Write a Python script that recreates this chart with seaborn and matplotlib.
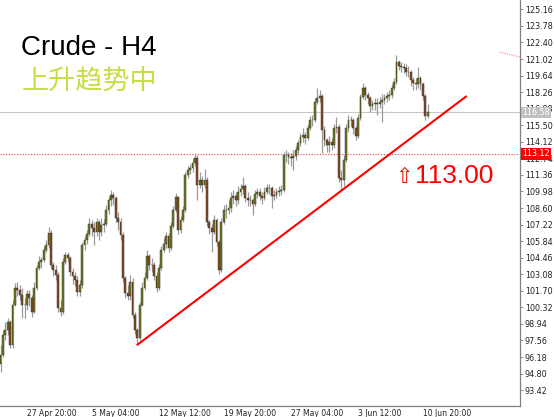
import matplotlib
matplotlib.use("Agg")
import matplotlib.pyplot as plt
import matplotlib.transforms as mtransforms
import numpy as np
import seaborn as sns

# H4 candles (prices)
close = [
    96.35, 98.02, 98.44, 99.10, 97.19, 100.52, 101.94, 101.77, 101.36, 100.52,
    100.52, 101.44, 101.11, 99.94, 101.94, 103.61, 104.11, 104.27, 105.11, 105.52,
    106.52, 103.86, 103.44, 103.02, 100.27, 99.94, 104.11, 104.69, 104.44, 103.27,
    102.94, 102.61, 101.61, 102.19, 105.52, 105.94, 106.44, 107.27, 106.94, 106.61,
    107.44, 106.61, 107.19, 107.27, 108.44, 109.27, 109.69, 109.44, 107.77, 107.44,
    106.36, 102.77, 101.52, 101.27, 102.44, 99.69, 98.44, 97.77, 100.52, 101.94,
    102.77, 104.61, 103.86, 103.86, 102.94, 101.94, 103.61, 105.11, 105.61, 106.27,
    105.27, 107.11, 108.44, 109.52, 106.77, 107.61, 108.44, 111.36, 111.77, 111.94,
    112.36, 112.77, 110.52, 110.94, 110.52, 110.94, 107.44, 106.94, 106.61, 107.61,
    105.77, 103.44, 107.44, 108.44, 108.44, 108.61, 109.44, 109.61, 109.27, 109.94,
    110.19, 110.44, 109.44, 109.27, 109.27, 108.94, 109.77, 109.94, 109.61, 109.44,
    109.94, 110.27, 110.27, 109.61, 109.69, 109.94, 110.02, 110.11, 113.02, 113.02,
    112.86, 112.77, 112.94, 113.44, 114.02, 114.52, 114.69, 114.44, 115.27, 115.94,
    115.94, 117.44, 117.77, 117.94, 115.11, 114.27, 113.86, 114.11, 113.86, 115.27,
    115.36, 111.11, 110.94, 112.61, 115.27, 115.94, 115.94, 115.27, 114.61, 116.11,
    117.86, 118.61, 118.02, 117.77, 117.11, 117.27, 117.36, 117.27, 117.44, 117.61,
    117.77, 117.94, 118.02, 118.61, 119.11, 120.77, 120.44, 120.36, 120.27, 119.94,
    119.94, 119.27, 119.02, 118.94, 119.44, 118.94, 117.94, 116.27, 116.58,
]
high = [
    97.19, 98.44, 99.10, 99.44, 99.27, 100.94, 102.36, 102.44, 102.19, 101.94,
    101.11, 101.77, 101.77, 101.36, 102.44, 103.86, 104.61, 104.52, 105.44, 105.94,
    107.02, 106.77, 104.11, 103.86, 103.27, 100.94, 104.44, 104.94, 104.94, 104.61,
    103.61, 103.27, 102.94, 102.61, 105.77, 106.27, 106.77, 107.77, 107.61, 107.44,
    107.77, 107.61, 107.77, 107.69, 108.86, 109.61, 110.11, 109.94, 109.60, 108.27,
    107.77, 106.61, 102.90, 102.19, 103.02, 102.77, 99.94, 98.61, 100.77, 102.44,
    103.27, 105.11, 104.77, 104.44, 104.11, 103.27, 103.94, 105.44, 106.11, 106.61,
    106.52, 107.44, 108.77, 109.86, 109.61, 107.94, 108.77, 111.61, 112.11, 112.27,
    112.77, 113.19, 113.00, 111.61, 111.27, 111.86, 111.19, 107.61, 107.27, 108.02,
    107.77, 105.94, 107.77, 108.86, 108.94, 109.27, 109.94, 110.11, 109.94, 110.44,
    110.61, 111.19, 110.61, 109.94, 109.69, 109.44, 110.11, 110.27, 110.27, 109.94,
    110.36, 110.61, 110.61, 110.44, 110.11, 110.27, 110.44, 110.52, 113.27, 113.44,
    113.27, 113.19, 113.44, 113.77, 114.27, 114.86, 115.27, 114.94, 115.61, 116.27,
    116.36, 117.77, 118.61, 118.44, 118.11, 115.44, 114.44, 114.61, 114.44, 115.61,
    116.19, 115.61, 111.77, 113.02, 115.61, 116.36, 116.27, 116.11, 115.44, 116.44,
    118.11, 119.02, 118.77, 118.27, 117.94, 117.61, 117.77, 117.77, 117.86, 118.11,
    118.11, 118.27, 118.44, 118.94, 119.44, 121.36, 120.94, 120.77, 120.69, 120.61,
    120.44, 120.11, 119.52, 119.44, 120.36, 119.61, 119.11, 118.11, 117.27,
]
low = [
    94.94, 96.20, 97.61, 98.02, 96.94, 96.94, 100.44, 101.27, 100.94, 99.44,
    99.44, 100.11, 100.44, 99.52, 99.85, 101.77, 103.44, 103.61, 104.11, 104.94,
    105.27, 103.61, 102.94, 102.61, 99.94, 99.60, 99.77, 103.94, 104.11, 102.94,
    102.27, 102.11, 101.27, 101.27, 101.94, 105.11, 105.61, 106.27, 106.27, 105.52,
    106.27, 105.94, 106.27, 106.61, 107.11, 108.11, 108.77, 108.86, 107.44, 106.77,
    105.94, 102.44, 101.11, 100.94, 100.94, 99.44, 98.11, 97.27, 97.61, 100.44,
    101.77, 102.61, 103.44, 103.27, 102.61, 101.61, 101.77, 103.44, 104.94, 105.27,
    104.94, 105.11, 106.94, 108.27, 106.44, 106.52, 107.44, 108.27, 111.11, 111.44,
    111.61, 112.11, 109.27, 110.27, 109.94, 110.27, 107.11, 106.44, 104.94, 106.44,
    105.44, 103.11, 103.27, 107.27, 107.77, 108.11, 108.27, 108.94, 108.77, 108.94,
    109.61, 109.77, 109.11, 108.77, 108.77, 108.02, 108.77, 109.44, 109.27, 108.94,
    109.27, 109.77, 109.77, 108.61, 109.27, 109.44, 109.61, 109.69, 109.94, 112.44,
    112.27, 112.11, 111.77, 112.61, 113.11, 113.77, 114.11, 113.94, 114.27, 115.11,
    115.44, 115.77, 117.27, 117.44, 113.19, 113.77, 113.27, 113.27, 113.44, 113.61,
    114.86, 110.77, 110.10, 110.44, 112.44, 114.94, 115.44, 114.77, 114.27, 114.44,
    115.94, 117.69, 117.61, 117.27, 116.61, 116.77, 116.77, 116.36, 116.94, 115.77,
    117.27, 117.44, 117.61, 117.77, 118.44, 118.94, 120.11, 119.94, 119.86, 119.61,
    119.52, 118.77, 118.44, 118.44, 118.61, 118.44, 117.61, 115.94, 116.11,
]
first_open = 95.60

date_labels = ["27 Apr 20:00", "5 May 04:00", "12 May 12:00", "19 May 20:00",
               "27 May 04:00", "3 Jun 12:00", "10 Jun 20:00"]
date_bars = [11, 38, 66, 93, 121, 149, 176]
price_ticks = [93.42, 94.80, 96.18, 97.56, 98.94, 100.32, 101.70, 103.08, 104.46,
               105.84, 107.22, 108.60, 109.98, 111.36, 112.74, 114.12, 115.50,
               116.88, 118.26, 119.64, 121.02, 122.40, 123.78, 125.16]

last_price = 116.58
alert_price = 113.12
target_price = 113.00
trend_x = [57, 194]
trend_y = [97.2, 117.9]
upper_x = [208, 217]
upper_y = [121.6, 121.15]

sns.set_style("white")
plt.rcParams["font.family"] = ["Liberation Sans", "DejaVu Sans"]
narrow = ["Liberation Sans Narrow", "DejaVu Sans"]

c = np.array(close)
h = np.array(high)
l = np.array(low)
o = np.array([first_open] + close[:-1])  # open = previous close
idx = np.arange(len(c))
bull = c >= o

fig = plt.figure(figsize=(5.54, 4.17), dpi=100)
ax = fig.add_axes([0, 11 / 417, 520 / 554, 406 / 417])
ax.set_xlim(-0.21, 216.46)
ax.set_ylim(92.10, 125.94)

ax.axhline(last_price, color="#c8c8c8", lw=0.8, zorder=1)
ax.axhline(alert_price, color="#e8434a", lw=0.8, ls=(0, (1, 1.5)), zorder=1)

ax.vlines(idx, l, h, color="#9a9a9a", lw=0.9, zorder=2)
ax.bar(idx[bull], (c - o)[bull], bottom=o[bull], width=0.7, color="#6e7d22",
       edgecolor="#2b2b1f", linewidth=0.3, zorder=3)
ax.bar(idx[~bull], (c - o)[~bull], bottom=o[~bull], width=0.7, color="#8a4a24",
       edgecolor="#2b2b1f", linewidth=0.3, zorder=3)

ax.plot(trend_x, trend_y, color="#ff0000", lw=1.5, zorder=4)
ax.plot(upper_x, upper_y, color="#f08080", lw=0.8, ls=(0, (1, 1.2)), zorder=4)

sns.despine(ax=ax, left=True, top=True, right=False, bottom=False)
for side in ("right", "bottom"):
    ax.spines[side].set_color("#808080")
    ax.spines[side].set_linewidth(0.9)

ax.yaxis.tick_right()
ax.set_yticks(price_ticks)
ax.set_yticklabels([f"{p:.2f}" for p in price_ticks])
ax.set_xticks(date_bars)
ax.set_xticklabels(date_labels, ha="left")
ax.tick_params(axis="y", length=2.5, width=0.6, pad=1, labelsize=5.8,
               color="#808080", labelcolor="#222222")
ax.tick_params(axis="x", length=2, width=0.6, pad=0.2, labelsize=5.5,
               color="#808080", labelcolor="#222222")
for t in ax.get_yticklabels() + ax.get_xticklabels():
    t.set_fontfamily(narrow)

tr = mtransforms.blended_transform_factory(ax.transAxes, ax.transData)
ax.text(1.004, last_price, f"{last_price:.2f}", transform=tr, va="center",
        ha="left", fontsize=5.8, color="white", family=narrow,
        bbox=dict(boxstyle="square,pad=0.15", fc="#c0c0c0", ec="none"), zorder=6)
ax.text(1.004, alert_price, f"{alert_price:.2f}", transform=tr, va="center",
        ha="left", fontsize=5.8, color="white", family=narrow,
        bbox=dict(boxstyle="square,pad=0.15", fc="#ff0000", ec="none"), zorder=6)

fig.text(21 / 554, 1 - 55 / 417, "Crude - H4", fontsize=20, color="black",
         va="baseline", ha="left")
fig.text(22 / 554, 1 - 90 / 417, "上升趋势中", fontsize=19.5, color="#c9dc45",
         va="baseline", ha="left", fontweight="light",
         family=["Noto Sans CJK SC", "DejaVu Sans"])
fig.text(395 / 554, 1 - 183 / 417, "\u21e7", fontsize=15, color="#ff0000",
         va="baseline", ha="left", family=["DejaVu Sans"])
fig.text(415 / 554, 1 - 183 / 417, f"{target_price:.2f}", fontsize=19,
         color="#ff0000", va="baseline", ha="left")

fig.savefig("out.png", dpi=100)
plt.close(fig)
